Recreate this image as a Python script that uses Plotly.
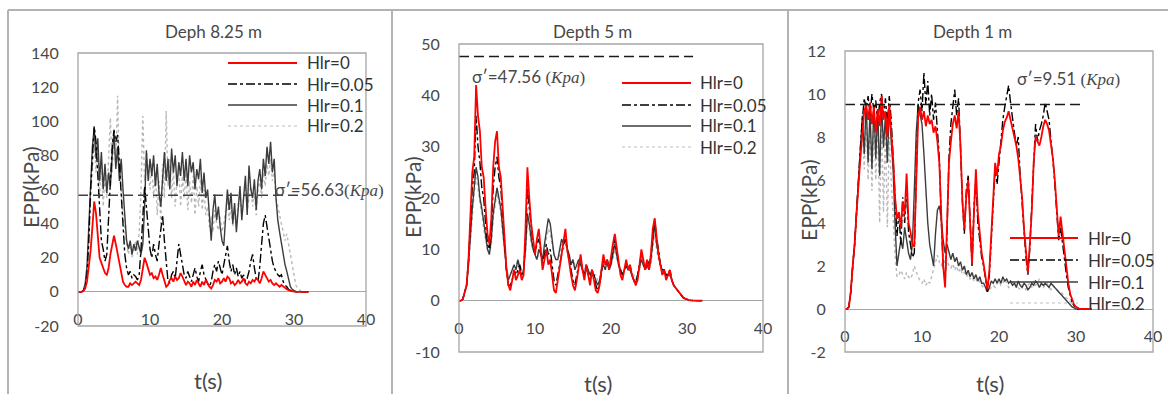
import plotly.graph_objects as go

# ---------------- DATA ----------------
T_STEP = 0.25
TIME = [round(i * T_STEP, 2) for i in range(129)]  # 0 ... 32 s

SERIES_NAMES = ["Hlr=0", "Hlr=0.05", "Hlr=0.1", "Hlr=0.2"]
PANEL_TITLES = ["Deph 8.25 m", "Depth 5 m", "Depth 1 m"]
SIGMA_VALUES = [56.63, 47.56, 9.51]
SIGMA_END_T = [30.8, 30.8, 30.8]
SIGMA_TEXT = ["σ′=56.63", "σ′=47.56 ", "σ′=9.51 "]
X_TICKS = [0, 10, 20, 30, 40]
Y_TICKS_1 = [-20, 0, 20, 40, 60, 80, 100, 120, 140]
Y_TICKS_2 = [-10, 0, 10, 20, 30, 40, 50]
Y_TICKS_3 = [-2, 0, 2, 4, 6, 8, 10, 12]

# Depth 8.25 m
P1_H0 = [0, 0, 0, 0.5, 2, 6, 14, 24,
         38, 53, 46, 30, 20, 17, 14, 11,
         10, 14, 22, 28, 33, 28, 22, 18,
         10, 6, 4, 3, 3, 5, 4, 5,
         6, 5, 4, 7, 14, 20, 17, 13,
         10, 11, 8, 9, 7, 10, 14, 10,
         6, 3, 4, 7, 8, 6, 9, 7,
         8, 11, 9, 6, 4, 6, 5, 3,
         6, 4, 7, 5, 3, 6, 4, 7,
         5, 3, 2, 4, 7, 6, 8, 5,
         6, 8, 6, 9, 8, 5, 6, 4,
         5, 7, 5, 6, 8, 5, 4, 6,
         5, 7, 6, 8, 7, 5, 8, 12,
         10, 8, 6, 7, 5, 4, 5, 4,
         3, 4, 3, 2, 1.5, 1, 0.6, 0.3,
         0.2, 0.1, 0, 0, 0, 0, 0, 0,
         0]
P1_H005 = [0, 0, 0, 0.5, 3, 10, 30, 60,
           80, 97, 88, 70, 45, 30, 25, 18,
           22, 40, 65, 85, 95, 88, 92, 75,
           55, 35, 22, 14, 10, 12, 8, 10,
           9, 7, 10, 25, 45, 62, 50, 35,
           25, 20, 28, 22, 18, 28, 38, 45,
           30, 15, 6, 5, 10, 12, 8, 18,
           28, 22, 15, 10, 8, 12, 9, 6,
           10, 14, 9, 6, 12, 16, 10, 7,
           5, 3, 6, 12, 16, 12, 18, 14,
           10, 16, 22, 27, 18, 12, 16, 10,
           14, 9, 12, 8, 10, 6, 8, 12,
           18, 22, 14, 8, 6, 15, 28, 40,
           45, 38, 30, 24, 18, 14, 12, 10,
           9, 10, 6, 4, 3, 1.5, 0.8, 0.4,
           0.2, 0, 0, 0, 0, 0, 0, 0,
           0]
P1_H01 = [0, 0, 0, 1, 5, 15, 40, 65,
          85, 96, 78, 90, 65, 82, 60, 75,
          58, 70, 62, 80, 94, 72, 85, 65,
          78, 60, 42, 30, 25, 30, 22, 28,
          24, 30, 26, 22, 28, 50, 83, 65,
          78, 68, 80, 62, 75, 58, 50, 70,
          82, 65, 78, 60, 84, 70, 80, 62,
          76, 68, 82, 65, 78, 62, 80, 70,
          76, 60, 72, 66, 78, 58, 70, 55,
          60, 45, 30, 48, 57, 42, 50, 38,
          30, 27, 45, 60, 48, 58, 40, 52,
          35, 48, 62, 42, 55, 68, 45, 74,
          60, 55, 66, 48, 65, 72, 60, 78,
          68, 85, 75, 88, 70, 78, 55, 42,
          35, 28, 22, 16, 12, 7, 3, 1.5,
          0.6, 0.2, 0, 0, 0, 0, 0, 0,
          0]
P1_H02 = [0, 0, 0, 0.5, 3, 10, 28, 55,
          75, 88, 70, 85, 55, 75, 50, 68,
          55, 80, 102, 70, 90, 75, 115, 70,
          60, 45, 35, 28, 22, 28, 20, 25,
          30, 22, 35, 60, 103, 65, 82, 70,
          60, 75, 55, 70, 45, 65, 40, 75,
          55, 106, 62, 78, 55, 72, 50, 66,
          72, 50, 68, 55, 70, 48, 65, 52,
          68, 45, 62, 50, 66, 48, 60, 45,
          50, 38, 44, 35, 48, 40, 36, 44,
          35, 40, 48, 55, 42, 50, 38, 48,
          40, 52, 58, 45, 55, 62, 48, 55,
          62, 50, 58, 45, 60, 66, 55, 70,
          62, 75, 68, 78, 65, 70, 55, 50,
          45, 40, 35, 30, 34, 28, 20, 14,
          8, 4, 2, 1, 0.3, 0, 0, 0,
          0]

# Depth 5 m
P2_H0 = [0, 0, 0.3, 1.5, 3, 8, 16, 25,
         28, 42, 36, 33, 26, 24, 18, 13,
         11, 16, 26, 31, 33, 26, 24, 18,
         11, 6, 3, 2, 4, 6, 4, 5,
         6, 4, 5, 14, 26, 20, 15, 12,
         9, 12, 14, 10, 6, 8, 10, 7,
         8, 5, 2, 1.5, 4, 7, 9, 12,
         14, 10, 7, 5, 3, 2, 4, 7,
         9, 6, 4, 7, 5, 3, 6, 4,
         2, 1.5, 3, 6, 9, 7, 8, 6,
         9, 11, 13, 10, 7, 5, 4, 6,
         8, 6, 7, 5, 4, 3, 4, 7,
         10, 8, 6, 8, 6, 9, 14, 16,
         12, 9, 7, 5, 6, 4, 5, 6,
         4, 3, 2.5, 2, 1.5, 1, 0.6, 0.4,
         0.2, 0.1, 0.05, 0, 0, 0, 0, 0,
         0]
P2_H005 = [0, 0, 0.3, 1.5, 3, 8, 15, 22,
           25, 36, 30, 27, 22, 20, 15, 11,
           10, 14, 22, 26, 28, 24, 22, 17,
           11, 6, 3, 3, 4, 6, 5, 6,
           7, 5, 6, 12, 22, 18, 14, 11,
           9, 11, 12, 10, 7, 9, 11, 9,
           10, 7, 4, 3, 5, 7, 9, 11,
           12, 10, 8, 6, 4, 3, 5, 7,
           8, 6, 5, 7, 5, 4, 6, 5,
           3, 2, 3, 6, 8, 7, 8, 6,
           8, 10, 12, 10, 7, 6, 5, 6,
           7, 6, 7, 5, 4, 3, 5, 7,
           9, 8, 6, 8, 7, 9, 13, 16,
           12, 10, 7, 6, 6, 5, 5, 6,
           4, 3, 2.5, 2, 1.5, 1, 0.6, 0.4,
           0.2, 0.1, 0.05, 0, 0, 0, 0, 0,
           0]
P2_H01 = [0, 0, 0.3, 1.5, 3, 7, 13, 18,
          22, 26, 24, 20, 18, 15, 12, 10,
          9, 12, 17, 20, 22, 20, 18, 14,
          10, 6, 4, 5, 6, 7, 6, 8,
          6, 5, 6, 10, 17, 15, 12, 10,
          9, 8, 10, 9, 8, 11, 14, 16,
          15, 12, 9, 8, 8, 10, 12, 11,
          12, 10, 9, 7, 8, 6, 7, 8,
          7, 6, 5, 7, 6, 5, 6, 5,
          4, 3, 4, 6, 7, 6, 8, 6,
          7, 9, 11, 9, 7, 6, 5, 6,
          7, 6, 6, 5, 4, 3.5, 5, 7,
          8, 7, 6, 7, 6, 8, 12, 15,
          11, 9, 7, 6, 6, 5, 5, 5,
          4, 3, 2.5, 2, 1.5, 1, 0.6, 0.4,
          0.2, 0.1, 0.05, 0, 0, 0, 0, 0,
          0]
P2_H02 = [0, 0, 0.3, 1.5, 3, 7, 12, 17,
          21, 24, 22, 19, 17, 14, 12, 10,
          9, 11, 16, 19, 21, 19, 17, 13,
          9, 6, 5, 5, 6, 7, 7, 8,
          7, 6, 6, 9, 16, 14, 11, 10,
          9, 8, 9, 9, 8, 10, 12, 14,
          13, 11, 9, 8, 8, 9, 11, 10,
          11, 9, 8, 7, 8, 7, 7, 8,
          7, 6, 6, 7, 6, 6, 6, 5,
          5, 4, 4, 6, 7, 6, 7, 6,
          7, 8, 10, 8, 7, 6, 6, 6,
          7, 6, 6, 5, 5, 4, 5, 6,
          7, 7, 6, 7, 6, 7, 10, 13,
          10, 8, 7, 6, 6, 5, 5, 5,
          4, 3, 2.5, 2, 1.5, 1, 0.6, 0.4,
          0.2, 0.1, 0.05, 0, 0, 0, 0, 0,
          0]

# Depth 1 m
P3_H0 = [0, 0, 0.1, 0.8, 2.0, 3.0, 4.5, 6.0,
         7.0, 8.2, 9.2, 9.5, 8.8, 9.6, 8.6, 9.4,
         8.2, 9.3, 8.5, 9.9, 8.8, 9.2, 8.0, 9.5,
         8.3, 7.0, 5.2, 4.2, 4.5, 3.8, 5.0, 4.4,
         6.3, 4.0, 3.6, 3.0, 2.9, 6.5, 8.9, 9.4,
         8.8, 9.2, 8.5, 9.0, 8.6, 8.8, 8.2, 8.5,
         7.8, 6.8, 4.0, 2.0, 1.0, 3.5, 6.8, 7.8,
         8.6, 9.0, 8.4, 9.2, 7.6, 5.0, 3.7, 5.2,
         6.0, 4.0, 2.1, 4.5, 6.5, 4.5, 3.5, 2.6,
         2.1, 1.5, 0.9, 1.8, 3.5, 4.8, 6.8, 6.2,
         7.2, 7.6, 8.3, 8.7, 8.9, 9.2, 8.8, 8.4,
         7.9, 7.6, 7.0, 6.0, 5.2, 3.7, 2.5, 1.7,
         3.0, 4.5, 6.8, 8.0, 7.8, 7.6, 8.0, 8.5,
         8.8, 8.6, 8.3, 7.6, 7.0, 6.0, 4.8, 3.4,
         4.3, 3.5, 2.6, 1.8, 1.2, 0.7, 0.4, 0.2,
         0.1, 0.05, 0, 0, 0, 0, 0, 0,
         0]
P3_H005 = [0, 0, 0.1, 0.8, 2.0, 3.0, 4.5, 6.2,
           7.5, 8.8, 9.8, 9.3, 9.9, 9.0, 10.0, 9.2,
           9.7, 8.6, 9.6, 10.0, 9.0, 9.8, 8.6, 9.9,
           8.8, 7.0, 5.0, 3.4, 4.5, 3.0, 5.2, 4.0,
           5.6, 3.6, 3.0, 2.4, 2.6, 6.5, 9.6, 10.2,
           9.2, 11.0, 9.5, 10.6, 9.0, 10.0, 8.8, 9.6,
           8.5, 7.0, 4.2, 2.0, 1.2, 3.6, 7.0, 8.6,
           9.4, 10.2, 9.0, 9.8, 7.5, 5.0, 3.5, 5.5,
           6.2, 3.8, 2.0, 4.8, 6.0, 4.0, 3.2, 2.4,
           2.0, 1.3, 0.8, 1.6, 3.2, 5.0, 6.5, 5.8,
           6.8, 7.8, 8.8, 9.4, 10.0, 10.4, 9.6, 8.8,
           8.2, 7.6, 8.0, 6.2, 5.0, 3.5, 2.4, 1.6,
           2.8, 4.8, 7.0, 8.6, 7.8, 8.3, 8.6, 9.0,
           9.6, 9.2, 8.8, 7.8, 7.0, 5.8, 4.5, 3.2,
           3.8, 3.0, 2.4, 1.6, 1.0, 0.6, 0.3, 0.15,
           0.05, 0, 0, 0, 0, 0, 0, 0,
           0]
P3_H01 = [0, 0, 0.1, 0.8, 2.0, 3.0, 4.5, 6.0,
          7.5, 9.0, 7.2, 9.6, 6.8, 9.2, 6.5, 9.5,
          7.0, 9.3, 6.2, 9.6, 7.5, 9.0, 6.8, 9.4,
          7.8, 6.5, 4.0, 2.0, 2.6, 3.2, 2.8, 3.8,
          3.2, 2.6, 2.3, 3.0, 5.5, 8.2, 9.5, 9.0,
          8.6, 7.2, 5.5, 4.0, 3.0, 2.4, 2.0, 3.5,
          4.6, 4.8, 4.2, 3.2, 2.6, 3.0, 2.6, 2.3,
          2.6, 2.2, 2.4, 2.0, 2.2, 1.8, 2.0, 1.6,
          1.8, 1.5, 1.7, 1.4, 1.6, 1.3, 1.5, 1.2,
          1.2, 1.0, 0.8, 1.0, 1.3, 1.2, 1.4, 1.2,
          1.4, 1.2, 1.5, 1.3, 1.4, 1.2, 1.3, 1.1,
          1.2, 1.0, 1.3, 1.1, 1.0, 1.2, 1.1, 0.9,
          1.0, 1.2, 1.1, 1.3, 1.2, 1.0, 1.2, 1.1,
          1.2, 1.1, 1.0, 1.2, 1.1, 1.0, 0.9, 0.8,
          0.7, 0.6, 0.5, 0.4, 0.3, 0.2, 0.1, 0.05,
          0, 0, 0, 0, 0, 0, 0, 0,
          0]
P3_H02 = [0, 0, 0.1, 0.8, 2.0, 3.0, 4.3, 5.8,
          7.0, 8.5, 6.5, 9.0, 6.0, 8.6, 5.5, 9.0,
          6.0, 8.8, 4.0, 9.0, 4.5, 8.5, 3.8, 8.0,
          6.0, 4.0, 2.5, 1.5, 1.6, 1.8, 1.6, 1.4,
          1.7, 1.5, 1.4, 1.6, 2.0, 1.7, 1.5, 1.3,
          1.2, 1.4, 1.1, 1.3, 1.2, 1.5, 1.8, 2.2,
          2.5, 2.2, 2.0, 2.4, 2.1, 2.3, 2.0, 1.9,
          2.1, 1.8, 2.0, 1.7, 1.9, 1.6, 1.7, 1.5,
          1.6, 1.4, 1.5, 1.3, 1.4, 1.2, 1.3, 1.1,
          1.0, 0.9, 0.8, 0.9, 1.0, 1.1, 1.0, 1.2,
          1.3, 1.1, 1.2, 1.4, 1.2, 1.0, 1.1, 1.3,
          1.2, 1.1, 1.0, 0.9, 1.1, 1.0, 0.9, 1.1,
          1.2, 1.0, 1.3, 1.1, 1.2, 1.4, 1.2, 1.0,
          1.1, 1.2, 1.0, 0.9, 1.1, 1.0, 0.9, 0.8,
          0.8, 0.7, 0.6, 0.5, 0.4, 0.3, 0.2, 0.1,
          0.05, 0, 0, 0, 0, 0, 0, 0,
          0]

PANEL_DATA = [
    [P1_H0, P1_H005, P1_H01, P1_H02],
    [P2_H0, P2_H005, P2_H01, P2_H02],
    [P3_H0, P3_H005, P3_H01, P3_H02],
]
for _panel in PANEL_DATA:
    for _s in _panel:
        assert len(_s) == len(TIME), len(_s)

# ---------------- STYLE / LAYOUT ----------------
W, H = 1168, 396
FONT = "Lato"
GREY_TXT = "#484848"
BOX_COL = "#a6a6a6"


def fx(px):
    return px / W


def fy(py):
    return 1 - py / H


LINE_STYLE = [
    dict(color="#ff0000", width=1.8, dash="solid"),
    dict(color="#000000", width=1.4, dash="dashdot"),
    dict(color="#3c3c3c", width=1.4, dash="solid"),
    dict(color="#b8b8b8", width=1.4, dash="dot"),
]
LEGEND_LINE_COL = ["#ff0000", "#000000", "#3c3c3c", "#d4d4d4"]

PANELS = [
    dict(box=(78, 53, 366, 326), yr=(-20, 140), yt=Y_TICKS_1,
         title=(213, 32), ylab=(30, 187), xlab=(208, 380),
         leg_line=(228, 297), leg_text=305, leg_rows=(63, 84, 105, 126),
         sig_pos=(273, 189), sig_col="#404040"),
    dict(box=(459, 44, 763, 352), yr=(-10, 50), yt=Y_TICKS_2,
         title=(592, 31), ylab=(413, 197), xlab=(598, 383),
         leg_line=(622, 691), leg_text=698, leg_rows=(83, 105, 126, 147),
         sig_pos=(470, 76), sig_col="#1a1a1a"),
    dict(box=(845, 51, 1153, 352), yr=(-2, 12), yt=Y_TICKS_3,
         title=(972, 32), ylab=(808, 200), xlab=(990, 383),
         leg_line=(1010, 1078), leg_text=1086, leg_rows=(238, 260, 282, 303),
         sig_pos=(1015, 78), sig_col="#1a1a1a"),
]

fig = go.Figure()
shapes = []
annotations = []
layout_axes = {}

for k, p in enumerate(PANELS):
    xa = "x" if k == 0 else f"x{k + 1}"
    ya = "y" if k == 0 else f"y{k + 1}"
    xkey = "xaxis" if k == 0 else f"xaxis{k + 1}"
    ykey = "yaxis" if k == 0 else f"yaxis{k + 1}"
    bx0, by0, bx1, by1 = p["box"]
    y0r, y1r = p["yr"]
    yd = [fy(by1), fy(by0)]
    zero_pos = yd[0] + (0 - y0r) / (y1r - y0r) * (yd[1] - yd[0])

    for s in [3, 2, 1, 0]:
        fig.add_trace(go.Scatter(
            x=TIME, y=PANEL_DATA[k][s], mode="lines", name=SERIES_NAMES[s],
            line=LINE_STYLE[s], xaxis=xa, yaxis=ya,
            showlegend=False, hoverinfo="skip"))

    fig.add_trace(go.Scatter(
        x=[0, SIGMA_END_T[k]], y=[SIGMA_VALUES[k], SIGMA_VALUES[k]],
        mode="lines", line=dict(color=p["sig_col"], width=1.5, dash="10px,5px"),
        xaxis=xa, yaxis=ya, showlegend=False, hoverinfo="skip"))

    layout_axes[xkey] = dict(
        domain=[fx(bx0), fx(bx1)], range=[0, 40], anchor="free", position=zero_pos,
        automargin=False,
        tickmode="array", tickvals=X_TICKS, ticktext=[str(v) for v in X_TICKS],
        ticks="outside", ticklen=13, tickcolor="rgba(0,0,0,0)",
        showline=False, showgrid=False, zeroline=False,
        tickfont=dict(family=FONT, size=16, color=GREY_TXT))
    layout_axes[ykey] = dict(
        domain=yd, range=[y0r, y1r], anchor=xa, automargin=False,
        tickmode="array", tickvals=p["yt"], ticktext=[str(v) for v in p["yt"]],
        ticks="outside", ticklen=15, tickcolor="rgba(0,0,0,0)",
        showline=False, showgrid=False,
        zeroline=True, zerolinecolor=BOX_COL, zerolinewidth=1.3,
        tickfont=dict(family=FONT, size=16, color=GREY_TXT))

    shapes.append(dict(type="rect", xref="paper", yref="paper",
                       x0=fx(bx0), x1=fx(bx1), y0=fy(by1), y1=fy(by0),
                       line=dict(color=BOX_COL, width=1.3), layer="above"))

    lx0, lx1 = p["leg_line"]
    for s, row in enumerate(p["leg_rows"]):
        st = LINE_STYLE[s]
        shapes.append(dict(type="line", xref="paper", yref="paper",
                           x0=fx(lx0), x1=fx(lx1), y0=fy(row), y1=fy(row),
                           line=dict(color=LEGEND_LINE_COL[s], width=st["width"] + 0.2,
                                     dash=st["dash"])))
        annotations.append(dict(text=SERIES_NAMES[s], xref="paper", yref="paper",
                                x=fx(p["leg_text"]), y=fy(row), xanchor="left",
                                yanchor="middle", showarrow=False,
                                font=dict(family=FONT, size=17, color="#333333")))

    annotations.append(dict(text=PANEL_TITLES[k], xref="paper", yref="paper",
                            x=fx(p["title"][0]), y=fy(p["title"][1]),
                            xanchor="center", yanchor="middle", showarrow=False,
                            font=dict(family=FONT, size=17, color=GREY_TXT)))
    annotations.append(dict(text="EPP(kPa)", xref="paper", yref="paper",
                            x=fx(p["ylab"][0]), y=fy(p["ylab"][1]), textangle=-90,
                            xanchor="center", yanchor="middle", showarrow=False,
                            font=dict(family=FONT, size=21, color=GREY_TXT)))
    annotations.append(dict(text="t(s)", xref="paper", yref="paper",
                            x=fx(p["xlab"][0]), y=fy(p["xlab"][1]),
                            xanchor="center", yanchor="middle", showarrow=False,
                            font=dict(family=FONT, size=22, color=GREY_TXT)))
    sig_html = (SIGMA_TEXT[k] +
                "<span style=\"font-family:'Liberation Serif'\">(<i>Kpa</i>)</span>")
    annotations.append(dict(text=sig_html, xref="paper", yref="paper",
                            x=fx(p["sig_pos"][0]), y=fy(p["sig_pos"][1]),
                            xanchor="left", yanchor="middle", showarrow=False,
                            font=dict(family=FONT, size=17, color=GREY_TXT)))

FRAME_COL = "#b3b3b3"
shapes.append(dict(type="line", xref="paper", yref="paper",
                   x0=fx(8), x1=fx(1168), y0=fy(10), y1=fy(10),
                   line=dict(color=FRAME_COL, width=2)))
for vx in (8, 392, 788):
    shapes.append(dict(type="line", xref="paper", yref="paper",
                       x0=fx(vx), x1=fx(vx), y0=fy(10), y1=fy(394),
                       line=dict(color=FRAME_COL, width=2)))

fig.update_layout(
    template="none",
    width=W, height=H,
    margin=dict(l=0, r=0, t=0, b=0, pad=0),
    paper_bgcolor="white", plot_bgcolor="white",
    showlegend=False,
    shapes=shapes, annotations=annotations,
    **layout_axes,
)

PAGE_CSS_JS = (
    "var d=document.documentElement,b=document.body;"
    "d.style.margin='0';d.style.padding='0';d.style.overflow='hidden';"
    "b.style.margin='0';b.style.padding='0';b.style.overflow='hidden';"
)

fig.write_html("out.html", config={"displayModeBar": False}, post_script=PAGE_CSS_JS)
